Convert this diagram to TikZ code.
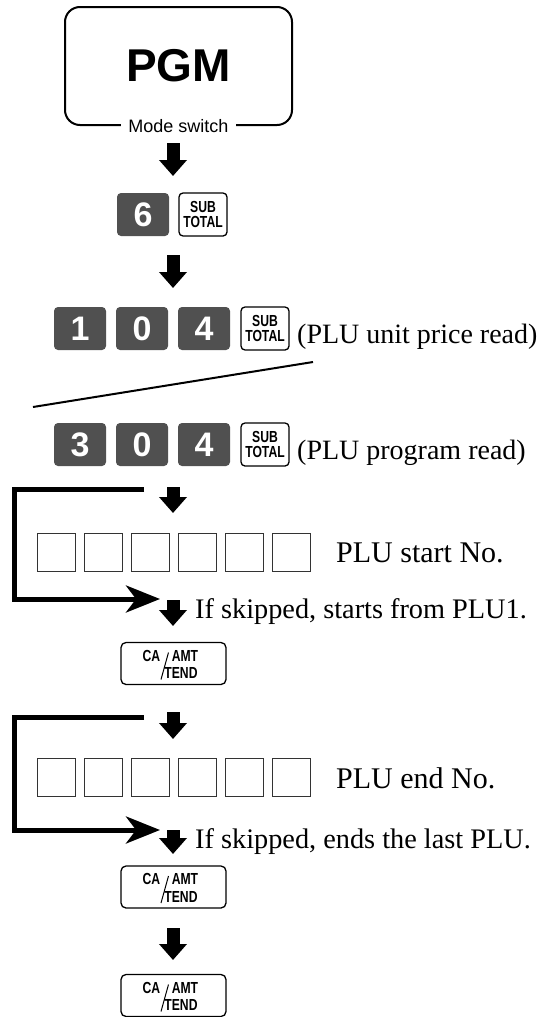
\documentclass[tikz,border=0pt]{standalone}
\usepackage{fontspec}
\setmainfont{Liberation Serif}
\newfontfamily\hel{Liberation Sans}
\newfontfamily\helc[FakeStretch=0.76]{Liberation Sans}
\usetikzlibrary{arrows.meta}
\definecolor{keygray}{HTML}{505050}
\newcommand{\cakey}[3]{%
  \node[cabox] (#1) at (#2,#3) {};
  \node[catext] (#1-ca) at ([shift={(-22,-8)}]#1.center) {CA};
  \node[catext] (#1-amt) at ([shift={(11.5,-8)}]#1.center) {AMT};
  \node[catext] (#1-tend) at ([shift={(7.5,9.5)}]#1.center) {TEND};
  \draw[line width=1pt] ([shift={(-5,-11)}]#1.center) -- ([shift={(-12.5,16)}]#1.center);
}
\begin{document}
\begin{tikzpicture}[x=1pt,y=-1pt,
  digitkey/.style={rectangle, rounded corners=4pt, fill=keygray, minimum width=52pt, minimum height=43pt, inner sep=0pt, text=white, font=\hel\bfseries\fontsize{34}{34}\selectfont},
  stkey/.style={rectangle, rounded corners=4pt, draw, line width=1.3pt, fill=white, minimum width=48pt, minimum height=43pt, inner sep=0pt, align=center, font=\helc\bfseries\fontsize{16}{15}\selectfont},
  cabox/.style={rectangle, rounded corners=5pt, draw, line width=1.3pt, minimum width=105pt, minimum height=42pt, inner sep=0pt},
  catext/.style={inner sep=0pt, font=\helc\bfseries\fontsize{16}{16}\selectfont},
  entrybox/.style={rectangle, draw=black!80, line width=0.8pt, minimum size=38pt, inner sep=0pt},
  flow/.style={-{Triangle[length=16pt,width=27pt]}, line width=13pt},
  skip/.style={-{Stealth[length=34pt,width=27pt,inset=10pt]}, line width=5pt},
  note/.style={anchor=base west, inner sep=0pt, font=\fontsize{28}{28}\selectfont},
  bignote/.style={anchor=base west, inner sep=0pt, font=\fontsize{30}{30}\selectfont},
  skipnote/.style={anchor=base west, inner sep=0pt, font=\fontsize{28.3}{28.3}\selectfont},
]
\useasboundingbox (0,0) rectangle (538,1017);

% Mode switch box
\node[draw, rounded corners=15pt, line width=2pt, minimum width=227pt, minimum height=118pt,
      inner sep=0pt, font=\hel\bfseries\fontsize{46}{46}\selectfont] (pgm) at (178.5,66) {PGM};
\node[fill=white, inner xsep=7pt, inner ysep=1pt, font=\hel\fontsize{18}{18}\selectfont] (mode) at (pgm.south) {Mode switch};

\coordinate (a1s) at (173,143); \coordinate (a1e) at (173,176);
\draw[flow] (a1s) -- (a1e);

% 6 ST
\node[digitkey] (k6) at (143,214.5) {6};
\node[stkey] (st1) at (203,214.5) {SUB\\TOTAL};

\coordinate (a2s) at (173,255); \coordinate (a2e) at (173,288);
\draw[flow] (a2s) -- (a2e);

% 1 0 4 ST
\node[digitkey] (k1) at (80,328.5) {1};
\node[digitkey] (k0a) at (142,328.5) {0};
\node[digitkey] (k4a) at (204,328.5) {4};
\node[stkey] (st2) at (265,328.5) {SUB\\TOTAL};
\node[note] (t1) at (297,343) {(PLU unit price read)};

\coordinate (sl1) at (33,407); \coordinate (sl2) at (313,362);
\draw[line width=2pt] (sl1) -- (sl2);

% 3 0 4 ST
\node[digitkey] (k3) at (80,444.5) {3};
\node[digitkey] (k0b) at (142,444.5) {0};
\node[digitkey] (k4b) at (204,444.5) {4};
\node[stkey] (st3) at (265,444.5) {SUB\\TOTAL};
\node[note] (t2) at (297,459) {(PLU program read)};

% start No.
\coordinate (a3s) at (173,487); \coordinate (a3e) at (173,513);
\draw[flow] (a3s) -- (a3e);
\coordinate (b1a) at (144,489.5); \coordinate (b1b) at (14.5,489.5);
\coordinate (b1c) at (14.5,599); \coordinate (b1d) at (160,599);
\draw[skip] (b1a) -- (b1b) -- (b1c) -- (b1d);
\foreach \i in {0,...,5} \node[entrybox] (s\i) at ({56+47*\i},552) {};
\node[bignote] (t3) at (336,562) {PLU start No.};
\coordinate (a4s) at (173,600); \coordinate (a4e) at (173,626);
\draw[flow] (a4s) -- (a4e);
\node[skipnote] (t4) at (195,618) {If skipped, starts from PLU1.};

\cakey{ca1}{173.5}{663.5}

% end No.
\coordinate (a5s) at (173,712); \coordinate (a5e) at (173,739);
\draw[flow] (a5s) -- (a5e);
\coordinate (b2a) at (144,717); \coordinate (b2b) at (14.5,717);
\coordinate (b2c) at (14.5,830); \coordinate (b2d) at (160,830);
\draw[skip] (b2a) -- (b2b) -- (b2c) -- (b2d);
\foreach \i in {0,...,5} \node[entrybox] (e\i) at ({56+47*\i},777.5) {};
\node[bignote] (t5) at (336,788) {PLU end No.};
\coordinate (a7s) at (173,830); \coordinate (a7e) at (173,854);
\draw[flow] (a7s) -- (a7e);
\node[skipnote] (t6) at (195,848) {If skipped, ends the last PLU.};

\cakey{ca2}{173.5}{887}

\coordinate (a6s) at (173,928); \coordinate (a6e) at (173,960);
\draw[flow] (a6s) -- (a6e);

\cakey{ca3}{173.5}{995.5}
\end{tikzpicture}
\end{document}
